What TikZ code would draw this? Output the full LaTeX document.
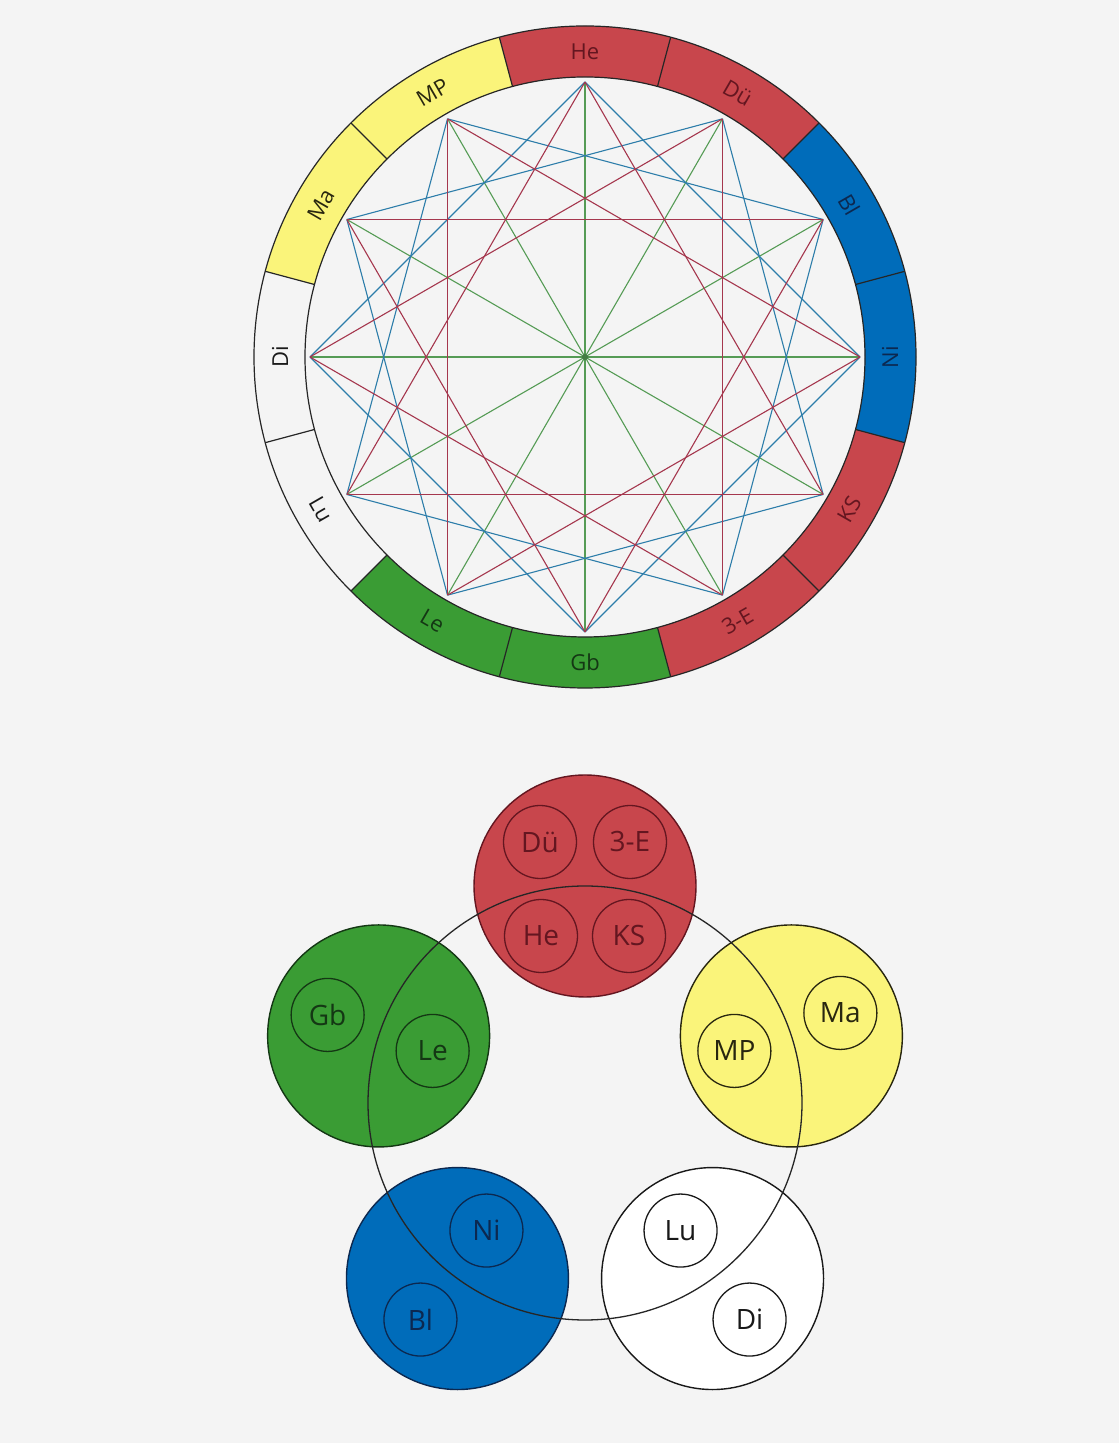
\documentclass[tikz,border=0pt]{standalone}
\usepackage{fontspec}
\setmainfont{Open Sans}
\usetikzlibrary{calc}
\definecolor{bg}{RGB}{244,244,244}
\definecolor{segred}{RGB}{200,70,76}
\definecolor{segblue}{RGB}{0,108,186}
\definecolor{segyellow}{RGB}{250,244,122}
\definecolor{seggreen}{RGB}{58,156,52}
\definecolor{txred}{RGB}{100,22,32}
\definecolor{txblue}{RGB}{12,40,80}
\definecolor{txyellow}{RGB}{40,38,15}
\definecolor{txgreen}{RGB}{20,55,20}
\definecolor{txwhite}{RGB}{25,25,25}
\definecolor{lnblue}{RGB}{45,125,170}
\definecolor{lnred}{RGB}{165,55,78}
\definecolor{lngreen}{RGB}{85,155,85}
\begin{document}
\begin{tikzpicture}[x=1pt,y=1pt,
  ringline/.style={draw=black!85,line width=1.2pt},
  ringlab/.style={font=\fontsize{22}{24}\selectfont,inner sep=0pt},
  sblue/.style={draw=lnblue,line width=1.1pt},
  sred/.style={draw=lnred,line width=1.1pt},
  sgreen/.style={draw=lngreen,line width=1.1pt},
  bigdisc/.style={circle,minimum size=222pt,inner sep=0pt,line width=1.4pt},
  subdisc/.style={circle,draw,minimum size=73pt,inner sep=0pt,line width=1.3pt,font=\fontsize{28}{30}\selectfont}]
\useasboundingbox (0,0) rectangle (1119,1443);
\fill[bg] (0,0) rectangle (1119,1443);
% ---------------- top wheel ----------------
\begin{scope}[shift={(585,1086)}]
  \foreach \a/\c in {90/segred,60/segred,30/segblue,0/segblue,-30/segred,-60/segred,-90/seggreen,-120/seggreen,-150/bg,180/bg,150/segyellow,120/segyellow}{
    \fill[\c] (\a-15:280pt) arc[start angle=\a-15,end angle=\a+15,radius=280pt]
      -- (\a+15:331pt) arc[start angle=\a+15,end angle=\a-15,radius=331pt] -- cycle;
  }
  \draw[ringline] (0,0) circle[radius=331pt];
  \draw[ringline] (0,0) circle[radius=280pt];
  \foreach \a in {15,45,...,345}{
    \draw[ringline] (\a:280pt) -- (\a:331pt);
  }
  \foreach \a/\t/\r/\c/\n in {90/He/0/txred/he,60/Dü/-30/txred/du,30/Bl/-60/txblue/bl,0/Ni/90/txblue/ni,-30/KS/60/txred/ks,-60/3-E/30/txred/de,-90/Gb/0/txgreen/gb,-120/Le/-30/txgreen/le,-150/Lu/-60/txwhite/lu,180/Di/90/txwhite/di,150/Ma/60/txyellow/ma,120/MP/30/txyellow/mp}{
    \node[ringlab,text=\c,rotate=\r] (r\n) at (\a:305pt) {\t};
  }
  \foreach \k in {0,...,11}{
    \coordinate (v\k) at (\k*30:275pt);
  }
  \foreach \k in {0,...,5}{
    \pgfmathtruncatemacro\m{\k+6}
    \draw[sgreen] (v\k) -- (v\m);
  }
  \foreach \k in {0,...,11}{
    \pgfmathtruncatemacro\m{mod(\k+3,12)}
    \draw[sblue] (v\k) -- (v\m);
  }
  \foreach \k in {0,...,11}{
    \pgfmathtruncatemacro\m{mod(\k+4,12)}
    \draw[sred] (v\k) -- (v\m);
  }
  \node[circle,fill=lngreen!80!black,inner sep=0pt,minimum size=6pt] (ctr) at (0,0) {};
\end{scope}
% ---------------- bottom wheel ----------------
\begin{scope}[shift={(585,340)}]
  \node[bigdisc,fill=segred,draw=txred] (cR) at (90:217pt) {};
  \node[bigdisc,fill=segyellow,draw=txyellow] (cY) at (18:217pt) {};
  \node[bigdisc,fill=seggreen,draw=txgreen] (cG) at (162:217pt) {};
  \node[bigdisc,fill=segblue,draw=txblue] (cB) at (234:217pt) {};
  \node[bigdisc,fill=white,draw=txwhite] (cW) at (306:217pt) {};
  \node[circle,draw=black!85,line width=1.3pt,minimum size=434pt,inner sep=0pt] (wheel) at (0,0) {};
  \node[subdisc,draw=txred,text=txred] (bdu) at ($(cR)+(-45,44)$) {Dü};
  \node[subdisc,draw=txred,text=txred] (bde) at ($(cR)+(45,44)$) {3-E};
  \node[subdisc,draw=txred,text=txred] (bhe) at ($(cR)+(-44,-50)$) {He};
  \node[subdisc,draw=txred,text=txred] (bks) at ($(cR)+(44,-50)$) {KS};
  \node[subdisc,draw=txyellow,text=txyellow] (bma) at ($(cY)+(49,23)$) {Ma};
  \node[subdisc,draw=txyellow,text=txyellow] (bmp) at ($(cY)+(-57,-15)$) {MP};
  \node[subdisc,draw=txgreen,text=txgreen] (bgb) at ($(cG)+(-51,21)$) {Gb};
  \node[subdisc,draw=txgreen,text=txgreen] (ble) at ($(cG)+(54,-15)$) {Le};
  \node[subdisc,draw=txblue,text=txblue] (bni) at ($(cB)+(29,48)$) {Ni};
  \node[subdisc,draw=txblue,text=txblue] (bbl) at ($(cB)+(-37,-41)$) {Bl};
  \node[subdisc,draw=txwhite,text=txwhite] (blu) at ($(cW)+(-32,48)$) {Lu};
  \node[subdisc,draw=txwhite,text=txwhite] (bdi) at ($(cW)+(37,-41)$) {Di};
\end{scope}
\end{tikzpicture}
\end{document}
